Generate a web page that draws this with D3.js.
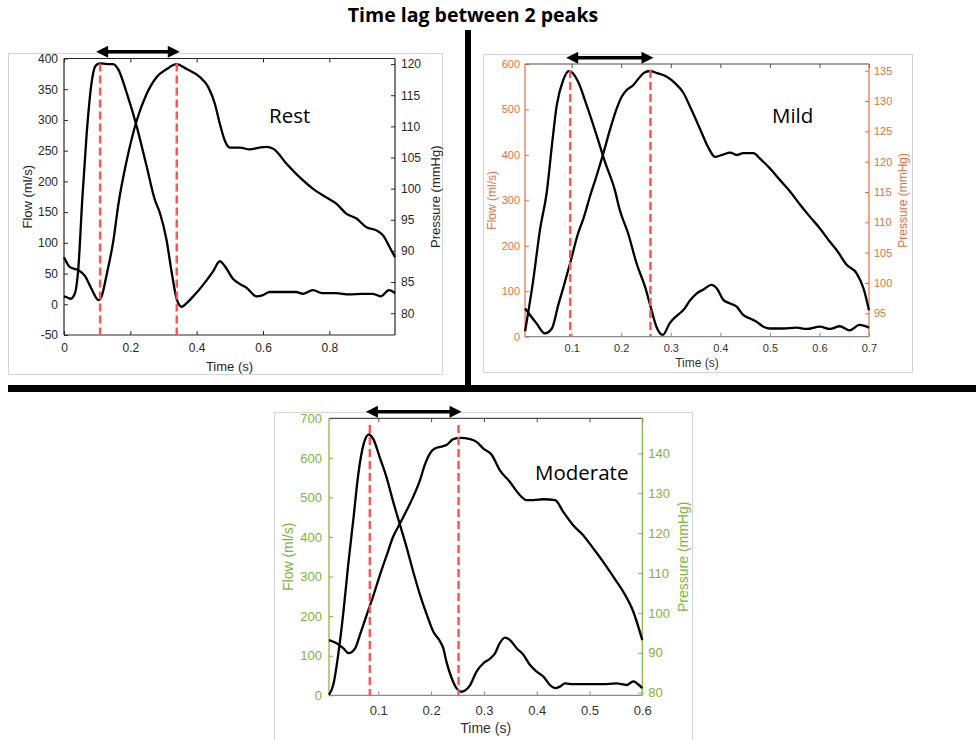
<!DOCTYPE html>
<html>
<head>
<meta charset="utf-8">
<script src="https://cdn.jsdelivr.net/npm/d3@7"></script>
<style>
  body { margin: 0; background: #fff; }
  svg { display: block; font-family: "Liberation Sans", Arial, sans-serif; }
</style>
</head>
<body>
<svg id="chart" width="976" height="740"></svg>
<script>
// ---------- Rest ----------
const restTimeDomain = [0, 0.998];
const restFlowDomain = [-50, 400];
const restPressureDomain = [76.5, 120.9];
const restTimeTicks = [0, 0.2, 0.4, 0.6, 0.8];
const restFlowTicks = [-50, 0, 50, 100, 150, 200, 250, 300, 350, 400];
const restPressureTicks = [80, 85, 90, 95, 100, 105, 110, 115, 120];
const restPeaks = [0.109, 0.34];          // flow peak, pressure peak (s)
const restDashTop = 392;                  // ml/s
// [time (s), flow (ml/s)]
const restFlow = [
  [0, 13], [0.01, 11], [0.02, 9], [0.033, 18], [0.043, 57], [0.055, 170], [0.068, 275],
  [0.083, 360], [0.095, 388], [0.108, 392], [0.13, 391], [0.148, 391], [0.164, 382],
  [0.189, 344], [0.219, 290], [0.249, 225], [0.274, 170], [0.289, 149], [0.309, 105],
  [0.325, 51], [0.34, 8], [0.355, -4], [0.37, 2], [0.39, 13], [0.42, 32], [0.45, 54],
  [0.47, 70], [0.485, 62], [0.51, 41], [0.53, 33], [0.55, 27], [0.58, 13], [0.6, 15],
  [0.62, 20], [0.66, 20], [0.7, 20], [0.72, 17], [0.75, 23], [0.78, 18], [0.82, 18],
  [0.86, 16], [0.9, 17], [0.93, 17], [0.955, 13], [0.98, 23], [0.998, 18]
];
// [time (s), pressure (mmHg)]
const restPressure = [
  [0, 89.0], [0.018, 87.4], [0.043, 86.9], [0.063, 86.0], [0.083, 83.9], [0.104, 82.1],
  [0.114, 82.8], [0.129, 86.3], [0.149, 91.7], [0.164, 97.5], [0.189, 104.5], [0.219, 110.9],
  [0.249, 115.2], [0.279, 117.9], [0.31, 119.2], [0.339, 120.0], [0.37, 119.2], [0.41, 117.9],
  [0.435, 116.3], [0.455, 113.6], [0.47, 110.4], [0.485, 107.7], [0.5, 106.6], [0.53, 106.6],
  [0.56, 106.3], [0.59, 106.6], [0.61, 106.7], [0.631, 106.4], [0.671, 104.0], [0.711, 101.8],
  [0.751, 99.97], [0.791, 98.6], [0.821, 97.6], [0.851, 96.0], [0.882, 95.2], [0.912, 93.8],
  [0.942, 93.3], [0.962, 92.5], [0.982, 90.6], [0.998, 89.0]
];

// ---------- Mild ----------
const mildTimeDomain = [0.0058, 0.7];
const mildFlowDomain = [0, 600];
const mildPressureDomain = [91.15, 136.1];
const mildTimeTicks = [0.1, 0.2, 0.3, 0.4, 0.5, 0.6, 0.7];
const mildFlowTicks = [0, 100, 200, 300, 400, 500, 600];
const mildPressureTicks = [95, 100, 105, 110, 115, 120, 125, 130, 135];
const mildPeaks = [0.097, 0.259];
const mildDashTop = 587;
const mildFlow = [
  [0.006, 12], [0.0225, 125], [0.036, 235], [0.05, 320], [0.06, 420], [0.07, 510],
  [0.083, 565], [0.095, 585], [0.113, 561], [0.13, 510], [0.15, 444], [0.167, 385],
  [0.187, 323], [0.197, 279], [0.214, 227], [0.231, 161], [0.248, 110], [0.261, 59],
  [0.271, 22], [0.284, 4], [0.298, 30], [0.312, 46], [0.325, 58], [0.339, 80], [0.352, 95],
  [0.366, 104], [0.382, 114], [0.393, 106], [0.406, 81], [0.42, 73], [0.433, 66],
  [0.446, 48], [0.46, 40], [0.473, 33], [0.487, 22], [0.5, 18], [0.527, 18], [0.554, 20],
  [0.574, 17], [0.601, 22], [0.621, 17], [0.641, 23], [0.661, 14], [0.681, 26], [0.7, 20]
];
const mildPressure = [
  [0.006, 95.8], [0.029, 93.35], [0.046, 91.7], [0.06, 92.5], [0.073, 96.4], [0.083, 99.2],
  [0.097, 103.3], [0.113, 108.2], [0.124, 110.7], [0.137, 114.3], [0.15, 117.6], [0.164, 121.4],
  [0.177, 125.2], [0.191, 128.8], [0.201, 130.7], [0.211, 131.8], [0.224, 132.6], [0.235, 133.7],
  [0.245, 134.6], [0.258, 134.95], [0.272, 134.6], [0.292, 134.0], [0.309, 132.9], [0.325, 131.4],
  [0.342, 128.5], [0.359, 125.4], [0.376, 122.3], [0.389, 120.8], [0.403, 121.1], [0.42, 121.5],
  [0.433, 121.1], [0.446, 121.4], [0.467, 121.4], [0.48, 120.5], [0.5, 118.9], [0.52, 117.0],
  [0.541, 115.05], [0.561, 112.9], [0.581, 110.9], [0.601, 109.0], [0.621, 106.8],
  [0.635, 105.4], [0.655, 103.0], [0.675, 101.6], [0.689, 99.1], [0.7, 95.5]
];

// ---------- Moderate ----------
const modTimeDomain = [0.0066, 0.6];
const modFlowDomain = [0, 700];
const modPressureDomain = [79.35, 148.8];
const modTimeTicks = [0.1, 0.2, 0.3, 0.4, 0.5, 0.6];
const modFlowTicks = [0, 100, 200, 300, 400, 500, 600, 700];
const modPressureTicks = [80, 90, 100, 110, 120, 130, 140];
const modPeaks = [0.084, 0.252];
const modDashTop = 683;
const modFlow = [
  [0.0066, 1], [0.015, 28], [0.024, 102], [0.034, 212], [0.043, 330], [0.053, 448],
  [0.062, 558], [0.072, 634], [0.082, 659], [0.091, 646], [0.103, 600], [0.116, 549],
  [0.128, 490], [0.141, 431], [0.154, 372], [0.166, 313], [0.179, 254], [0.192, 203],
  [0.204, 161], [0.217, 136], [0.223, 119], [0.229, 85], [0.239, 43], [0.248, 18],
  [0.258, 9], [0.264, 12], [0.274, 26], [0.286, 60], [0.299, 81], [0.312, 93], [0.321, 106],
  [0.33, 132], [0.34, 146], [0.349, 140], [0.362, 119], [0.375, 102], [0.387, 77], [0.4, 60],
  [0.413, 47], [0.425, 26], [0.435, 18], [0.444, 22], [0.454, 30], [0.469, 28], [0.495, 28],
  [0.526, 28], [0.551, 30], [0.57, 26], [0.583, 35], [0.592, 28], [0.6, 18]
];
const modPressure = [
  [0.0066, 93.2], [0.021, 92.4], [0.034, 91.1], [0.044, 89.9], [0.056, 91.1], [0.065, 94.45],
  [0.078, 99.5], [0.091, 104.5], [0.103, 109.5], [0.116, 114.5], [0.128, 119.1], [0.141, 122.4],
  [0.154, 125.8], [0.166, 129.1], [0.179, 133.3], [0.188, 137.1], [0.198, 140.0], [0.207, 141.2],
  [0.22, 141.7], [0.229, 142.1], [0.242, 143.6], [0.255, 143.9], [0.274, 143.6], [0.286, 142.9],
  [0.299, 141.2], [0.315, 139.6], [0.33, 135.8], [0.349, 132.9], [0.365, 130.0], [0.381, 128.3],
  [0.394, 128.3], [0.413, 128.5], [0.435, 128.3], [0.45, 125.4], [0.469, 122.0], [0.488, 119.5],
  [0.507, 116.2], [0.526, 112.8], [0.545, 109.1], [0.564, 105.3], [0.583, 100.3], [0.6, 93.2]
];

const chartTitle = "Time lag between 2 peaks";
const panelNames = ["Rest", "Mild", "Moderate"];

// ---------- layout / styling per panel ----------
const panels = [
  {
    name: panelNames[0], flow: restFlow, pressure: restPressure, peaks: restPeaks, dashTop: restDashTop,
    xDomain: restTimeDomain, fDomain: restFlowDomain, pDomain: restPressureDomain,
    xTicks: restTimeTicks, fTicks: restFlowTicks, pTicks: restPressureTicks,
    box: { l: 64, r: 395, t: 58.5, b: 335 },
    frame: { x: 8, y: 53, w: 434, h: 321 },
    yColor: "#262626", xColor: "#262626", xTopColor: "#262626", xBotColor: "#262626",
    tickFont: 12, titleFont: 13, padX: 8.5, padL: 6, padR: 6,
    timeY: 371, flowX: 27, pressX: 435,
    nameX: 269, nameY: 123, arrowY: 51.7
  },
  {
    name: panelNames[1], flow: mildFlow, pressure: mildPressure, peaks: mildPeaks, dashTop: mildDashTop,
    xDomain: mildTimeDomain, fDomain: mildFlowDomain, pDomain: mildPressureDomain,
    xTicks: mildTimeTicks, fTicks: mildFlowTicks, pTicks: mildPressureTicks,
    box: { l: 525, r: 869, t: 64, b: 336.7 },
    frame: { x: 483, y: 54, w: 429, h: 318 },
    yColor: "#e2703f", xColor: "#333333", xTopColor: "#4d4d4d", xBotColor: "#8c8c8c",
    tickFont: 11, titleFont: 12, padX: 7.5, padL: 5, padR: 5,
    timeY: 367, flowX: 492, pressX: 903,
    nameX: 772, nameY: 123, arrowY: 57.7
  },
  {
    name: panelNames[2], flow: modFlow, pressure: modPressure, peaks: modPeaks, dashTop: modDashTop,
    xDomain: modTimeDomain, fDomain: modFlowDomain, pDomain: modPressureDomain,
    xTicks: modTimeTicks, fTicks: modFlowTicks, pTicks: modPressureTicks,
    box: { l: 329, r: 642.3, t: 418.3, b: 695.3 },
    frame: { x: 274, y: 412, w: 418, h: 340 },
    yColor: "#7db43a", xColor: "#333333", xTopColor: "#4d4d4d", xBotColor: "#8c8c8c",
    tickFont: 13, titleFont: 14, padX: 10, padL: 7, padR: 6,
    timeY: 733, flowX: 288, pressX: 683,
    nameX: 535, nameY: 480, arrowY: 411.7
  }
];

const svg = d3.select("#chart");
const fmt = d => String(d);

// light frames behind each figure
panels.forEach(p => {
  svg.append("rect")
    .attr("x", p.frame.x + 0.5).attr("y", p.frame.y + 0.5)
    .attr("width", p.frame.w).attr("height", p.frame.h)
    .attr("fill", "#fff").attr("stroke", "#d4d4d4").attr("stroke-width", 1);
});

// heavy separators
svg.append("rect").attr("x", 465).attr("y", 30).attr("width", 6).attr("height", 362).attr("fill", "#000");
svg.append("rect").attr("x", 8).attr("y", 385).attr("width", 968).attr("height", 7).attr("fill", "#000");

// title
svg.append("text")
  .attr("x", 473).attr("y", 21.5)
  .attr("text-anchor", "middle")
  .style("font-family", "'Open Sans', 'Noto Sans', sans-serif")
  .style("font-weight", 700).style("font-size", "19.5px")
  .attr("fill", "#000")
  .text(chartTitle);

function drawPanel(p) {
  const g = svg.append("g");
  const x = d3.scaleLinear().domain(p.xDomain).range([p.box.l, p.box.r]);
  const yF = d3.scaleLinear().domain(p.fDomain).range([p.box.b, p.box.t]);
  const yP = d3.scaleLinear().domain(p.pDomain).range([p.box.b, p.box.t]);

  // axes (ticks point inward)
  const bottom = g.append("g").attr("transform", `translate(0,${p.box.b})`)
    .call(d3.axisBottom(x).tickValues(p.xTicks).tickFormat(fmt).tickSizeInner(-4).tickSizeOuter(0).tickPadding(p.padX));
  const top = g.append("g").attr("transform", `translate(0,${p.box.t})`)
    .call(d3.axisTop(x).tickValues(p.xTicks).tickFormat("").tickSizeInner(-4).tickSizeOuter(0));
  const left = g.append("g").attr("transform", `translate(${p.box.l},0)`)
    .call(d3.axisLeft(yF).tickValues(p.fTicks).tickFormat(fmt).tickSizeInner(-4).tickSizeOuter(0).tickPadding(p.padL));
  const right = g.append("g").attr("transform", `translate(${p.box.r},0)`)
    .call(d3.axisRight(yP).tickValues(p.pTicks).tickFormat(fmt).tickSizeInner(-4).tickSizeOuter(0).tickPadding(p.padR));

  [bottom, top, left, right].forEach(a => a.select(".domain").remove());
  bottom.selectAll("text").attr("fill", p.xColor).style("font-size", p.tickFont + "px").style("font-family", "'Liberation Sans', Arial, sans-serif");
  bottom.selectAll("line").attr("stroke", p.xBotColor);
  top.selectAll("line").attr("stroke", p.xTopColor);
  [left, right].forEach(a => {
    a.selectAll("text").attr("fill", p.yColor).style("font-size", p.tickFont + "px").style("font-family", "'Liberation Sans', Arial, sans-serif");
    a.selectAll("line").attr("stroke", p.yColor);
  });

  // box edges
  g.append("line").attr("x1", p.box.l).attr("x2", p.box.r).attr("y1", p.box.t).attr("y2", p.box.t)
    .attr("stroke", p.xTopColor).attr("stroke-width", 1.2);
  g.append("line").attr("x1", p.box.l).attr("x2", p.box.r).attr("y1", p.box.b).attr("y2", p.box.b)
    .attr("stroke", p.xBotColor).attr("stroke-width", 1.2);
  g.append("line").attr("x1", p.box.l).attr("x2", p.box.l).attr("y1", p.box.t).attr("y2", p.box.b)
    .attr("stroke", p.yColor).attr("stroke-width", 1.2);
  g.append("line").attr("x1", p.box.r).attr("x2", p.box.r).attr("y1", p.box.t).attr("y2", p.box.b)
    .attr("stroke", p.yColor).attr("stroke-width", 1.2);

  // axis titles
  g.append("text").attr("x", (p.box.l + p.box.r) / 2).attr("y", p.timeY)
    .attr("text-anchor", "middle").attr("fill", p.xColor).style("font-size", p.titleFont + "px")
    .text("Time (s)");
  const midY = (p.box.t + p.box.b) / 2;
  g.append("text").attr("transform", `translate(${p.flowX},${midY}) rotate(-90)`)
    .attr("text-anchor", "middle").attr("dy", "0.35em").attr("fill", p.yColor).style("font-size", p.titleFont + "px")
    .text("Flow (ml/s)");
  g.append("text").attr("transform", `translate(${p.pressX},${midY}) rotate(-90)`)
    .attr("text-anchor", "middle").attr("dy", "0.35em").attr("fill", p.yColor).style("font-size", p.titleFont + "px")
    .text("Pressure (mmHg)");

  // waveforms
  const flowLine = d3.line().x(d => x(d[0])).y(d => yF(d[1])).curve(d3.curveMonotoneX);
  const pressLine = d3.line().x(d => x(d[0])).y(d => yP(d[1])).curve(d3.curveMonotoneX);
  g.append("path").datum(p.flow).attr("d", flowLine)
    .attr("fill", "none").attr("stroke", "#000").attr("stroke-width", 2.3).attr("stroke-linejoin", "round");
  g.append("path").datum(p.pressure).attr("d", pressLine)
    .attr("fill", "none").attr("stroke", "#000").attr("stroke-width", 2.3).attr("stroke-linejoin", "round");

  // peak markers
  g.selectAll("line.peak").data(p.peaks).join("line").attr("class", "peak")
    .attr("x1", d => x(d)).attr("x2", d => x(d))
    .attr("y1", yF(p.dashTop)).attr("y2", p.box.b)
    .attr("stroke", "#ff5454").attr("stroke-width", 2.5).attr("stroke-dasharray", "8,4");

  // double-headed arrow spanning the two peaks
  const ax1 = x(p.peaks[0]) - 4, ax2 = x(p.peaks[1]) + 3, ay = p.arrowY;
  const hl = 12, hh = 6, st = 1.8;
  const arrow = [
    [ax1, ay], [ax1 + hl, ay - hh], [ax1 + hl, ay - st], [ax2 - hl, ay - st], [ax2 - hl, ay - hh],
    [ax2, ay], [ax2 - hl, ay + hh], [ax2 - hl, ay + st], [ax1 + hl, ay + st], [ax1 + hl, ay + hh]
  ];
  g.append("path").attr("d", d3.line()(arrow) + "Z").attr("fill", "#000");

  // condition name
  g.append("text").attr("x", p.nameX).attr("y", p.nameY)
    .style("font-family", "'Open Sans', 'Noto Sans', sans-serif").style("font-size", "20.5px")
    .attr("fill", "#000").text(p.name);
}

panels.forEach(drawPanel);
</script>
</body>
</html>
